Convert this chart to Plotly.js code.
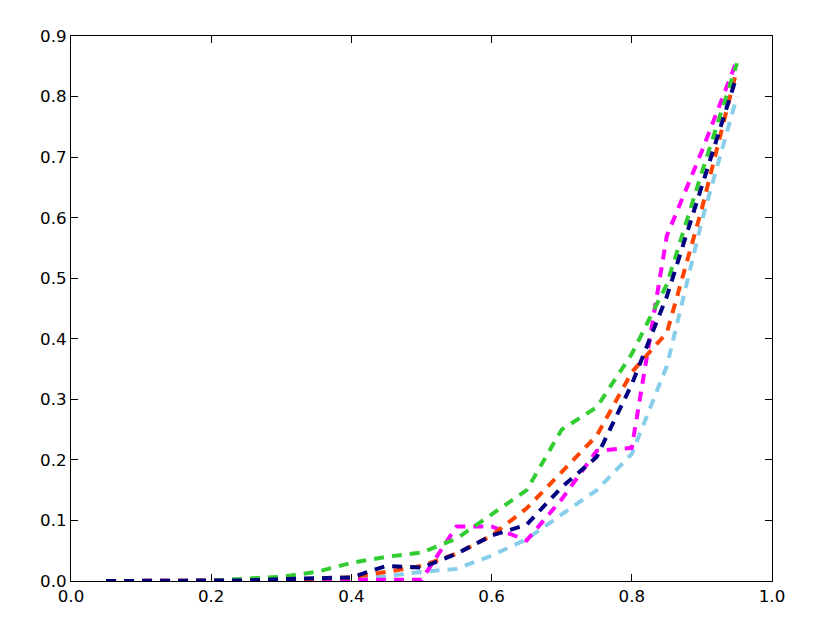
<!DOCTYPE html>
<html>
<head>
<meta charset="utf-8">
<script src="https://cdn.plot.ly/plotly-3.0.1.min.js"></script>
<style>html,body{margin:0;padding:0;background:#fff;}#chart{width:831px;height:623px;}</style>
</head>
<body>
<div id="chart"></div>
<script>
const xValues = [0.05,0.10,0.15,0.20,0.25,0.30,0.35,0.40,0.45,0.50,0.55,0.60,0.65,0.70,0.75,0.80,0.85,0.90,0.95];
const skyblueSeries = [0,0,0,0,0,0,0,0.003,0.008,0.015,0.02,0.042,0.069,0.11,0.15,0.21,0.355,0.595,0.80];
const magentaSeries = [0,0,0,0,0,0,0.001,0.002,0.002,0.002,0.09,0.09,0.067,0.135,0.215,0.22,0.57,0.71,0.86];
const orangeSeries  = [0,0,0,0,0.001,0.002,0.004,0.006,0.015,0.025,0.045,0.075,0.12,0.18,0.24,0.345,0.41,0.615,0.845];
const greenSeries   = [0,0,0,0,0.004,0.007,0.015,0.03,0.04,0.047,0.07,0.11,0.15,0.25,0.287,0.375,0.49,0.675,0.855];
const navySeries    = [0,0,0,0,0.001,0.003,0.005,0.006,0.025,0.022,0.045,0.075,0.093,0.155,0.205,0.325,0.47,0.65,0.835];

const seriesList = [
  {y: skyblueSeries, color: '#87CEEB'},
  {y: magentaSeries, color: '#FF00FF'},
  {y: orangeSeries,  color: '#FF4500'},
  {y: greenSeries,   color: '#32CD32'},
  {y: navySeries,    color: '#000080'}
];

const traces = seriesList.map(s => ({
  x: xValues, y: s.y, type: 'scatter', mode: 'lines',
  line: {color: s.color, width: 4, dash: '10px,8px'},
  showlegend: false, hoverinfo: 'skip'
}));

const axisCommon = {
  showline: true, linecolor: '#000', linewidth: 1, mirror: 'allticks',
  ticks: 'inside', ticklen: 7, tickwidth: 1, tickcolor: '#000',
  showgrid: false, zeroline: false,
  tickfont: {family: 'DejaVu Sans', size: 16.7, color: '#000'}
};

const layout = {
  width: 831, height: 623,
  margin: {l: 71, r: 59, t: 36, b: 42},
  paper_bgcolor: '#fff', plot_bgcolor: '#fff',
  xaxis: Object.assign({}, axisCommon, {range: [0, 1], tickvals: [0,0.2,0.4,0.6,0.8,1.0], ticktext: ['0.0','0.2','0.4','0.6','0.8','1.0']}),
  yaxis: Object.assign({}, axisCommon, {range: [0, 0.9], tickvals: [0,0.1,0.2,0.3,0.4,0.5,0.6,0.7,0.8,0.9], ticktext: ['0.0','0.1','0.2','0.3','0.4','0.5','0.6','0.7','0.8','0.9']})
};

Plotly.newPlot('chart', traces, layout, {displayModeBar: false, staticPlot: true});
</script>
</body>
</html>
